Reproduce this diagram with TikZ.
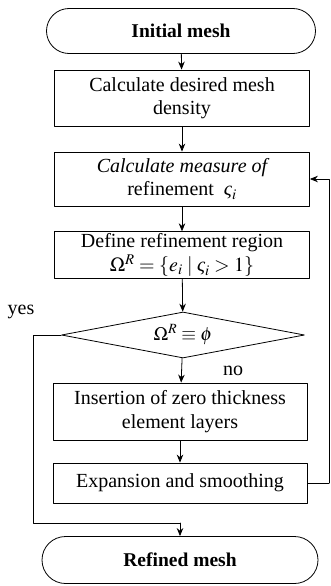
\documentclass[tikz,border=0pt]{standalone}
\usepackage{amsmath,amssymb}
\usepackage{mathptmx}
\usepackage{fontspec}
\setmainfont{Liberation Serif}
\usepackage{tikz}
\usetikzlibrary{arrows.meta,positioning,calc,shapes.geometric,shapes.misc}
\newcommand{\fsig}{\text{\itshape ς}}
\tikzset{
    every picture/.style={line cap=round,line join=round},
    stepbox/.style={draw=black,line width=0.8pt,minimum width=255pt,
      inner sep=2pt,align=center,font=\fontsize{20}{23.5}\selectfont},
    termnode/.style={draw=black,line width=0.8pt,rounded rectangle,
      inner sep=2pt,font=\fontsize{19.5}{23}\selectfont\bfseries},
    testnode/.style={draw=black,line width=0.8pt,diamond,aspect=5.3,
      inner sep=0pt,font=\fontsize{19}{23}\selectfont},
    flowarrow/.style={-{Stealth[length=8pt,width=6.5pt]},draw=black,
      line width=0.8pt},
    flowline/.style={draw=black,line width=0.8pt},
    sidelabel/.style={font=\fontsize{20}{23}\selectfont,inner sep=1pt}
}
\begin{document}
\begin{tikzpicture}[x=1pt,y=-1pt]
  \useasboundingbox (0,0) rectangle (330,586);
  \node[termnode,minimum width=273pt,minimum height=45pt] (init) at (181,31) {Initial mesh};
  \node[stepbox,minimum height=56pt] (dens) at (182,98) {Calculate desired mesh\\density};
  \node[stepbox,minimum height=54pt] (meas) at (182,179)
    {\itshape Calculate measure of\\\upshape refinement\enspace$\fsig_{i}$};
  \node[stepbox,minimum height=46pt] (reg) at (182,255)
    {Define refinement region\\$\Omega^{R}=\{e_{i}\;|\;\fsig_{i}>1\}$};
  \node[testnode,minimum width=243pt,minimum height=46pt] (test) at (183,335)
    {$\Omega^{R}\equiv\phi$};
  \node[stepbox,minimum height=57pt,minimum width=254pt] (ins) at (180,411.5)
    {Insertion of zero thickness\\element layers};
  \node[stepbox,minimum height=40pt,minimum width=254pt] (exp) at (180,483)
    {Expansion and smoothing};
  \node[termnode,minimum width=280pt,minimum height=47pt] (done) at (180,560) {Refined mesh};

  \node[sidelabel] (yes) at (21,312) {yes};
  \node[sidelabel] (no) at (233,371) {no};

  % main chain
  \draw[flowarrow] (init) -- (dens);
  \draw[flowarrow] (dens) -- (meas);
  \draw[flowarrow] (meas) -- (reg);
  \draw[flowarrow] (reg) -- (test);
  \draw[flowarrow] (test) -- (ins);
  \draw[flowarrow] (ins) -- (exp);

  % loop back and yes branch
  \coordinate (loopR) at (329,483);
  \coordinate (yesL) at (33,335);
  \coordinate (yesB) at (33,523);
  \draw[flowline] (exp.east) -- (loopR);
  \draw[flowarrow] (loopR) |- (meas.east);
  \draw[flowline] (test.west) -- (yesL) -- (yesB) -- (yesB -| done.north);
  \draw[flowarrow] (yesB -| done.north) -- (done.north);
\end{tikzpicture}
\end{document}
